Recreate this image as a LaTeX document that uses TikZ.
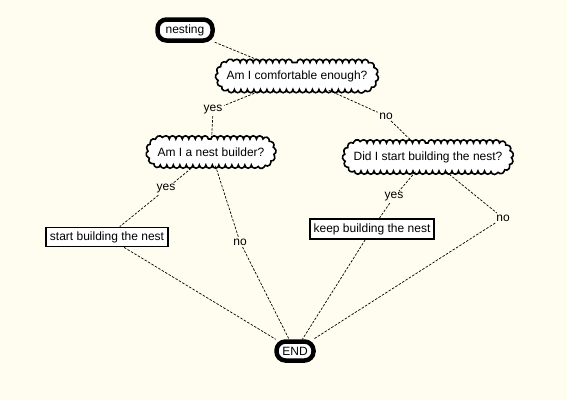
\documentclass[tikz,border=0pt]{standalone}
\usepackage{fontspec}
\setmainfont{Liberation Sans}
\usetikzlibrary{shapes.misc,decorations.pathmorphing}
\definecolor{bg}{RGB}{255,253,240}
\tikzset{
  every node/.style={font=\fontsize{12}{14}\selectfont},
  term/.style={draw, line width=4.5pt, fill=white, rounded corners=9pt, inner sep=0pt},
  question/.style={rounded rectangle, draw, line width=1.6pt, fill=white, inner sep=0pt,
    decorate, decoration={bumps, segment length=13pt, amplitude=3.2pt}},
  action/.style={draw, line width=1.8pt, fill=white, inner sep=0pt},
  edge/.style={dashed, dash pattern=on 2.5pt off 1.5pt, line width=0.7pt},
  lbl/.style={inner sep=1.5pt}
}
\begin{document}
\begin{tikzpicture}[x=1pt,y=-1pt]
\fill[bg] (0,0) rectangle (567,400);
\useasboundingbox (0,0) rectangle (567,400);
\node[term, minimum width=55pt, minimum height=21pt] (nest) at (185,30) {nesting};
\node[question, minimum width=156pt, minimum height=27pt] (comf) at (297,76) {Am I comfortable enough?};
\node[question, minimum width=123pt, minimum height=26pt] (build) at (211,152) {Am I a nest builder?};
\node[question, minimum width=164pt, minimum height=28pt] (did) at (428,157) {Did I start building the nest?};
\node[action, minimum width=122pt, minimum height=19pt] (start) at (107,237) {start building the nest};
\node[action, minimum width=124pt, minimum height=20pt] (keep) at (372,229) {keep building the nest};
\node[term, minimum width=37pt, minimum height=19pt] (end) at (295,351) {END};
\node[lbl] (y1) at (213,110) {yes};
\node[lbl] (n1) at (386,116) {no};
\node[lbl] (y2) at (166,189) {yes};
\node[lbl] (n2) at (240,242) {no};
\node[lbl] (y3) at (394,197) {yes};
\node[lbl] (n3) at (503,218) {no};
\draw[edge] (nest) -- (comf);
\draw[edge] (comf) -- (y1) -- (build);
\draw[edge] (comf) -- (n1) -- (did);
\draw[edge] (build) -- (y2) -- (start);
\draw[edge] (build) -- (n2) -- (end);
\draw[edge] (did) -- (y3) -- (keep);
\draw[edge] (did) -- (n3) -- (end);
\draw[edge] (start) -- (end);
\draw[edge] (keep) -- (end);
\end{tikzpicture}
\end{document}
